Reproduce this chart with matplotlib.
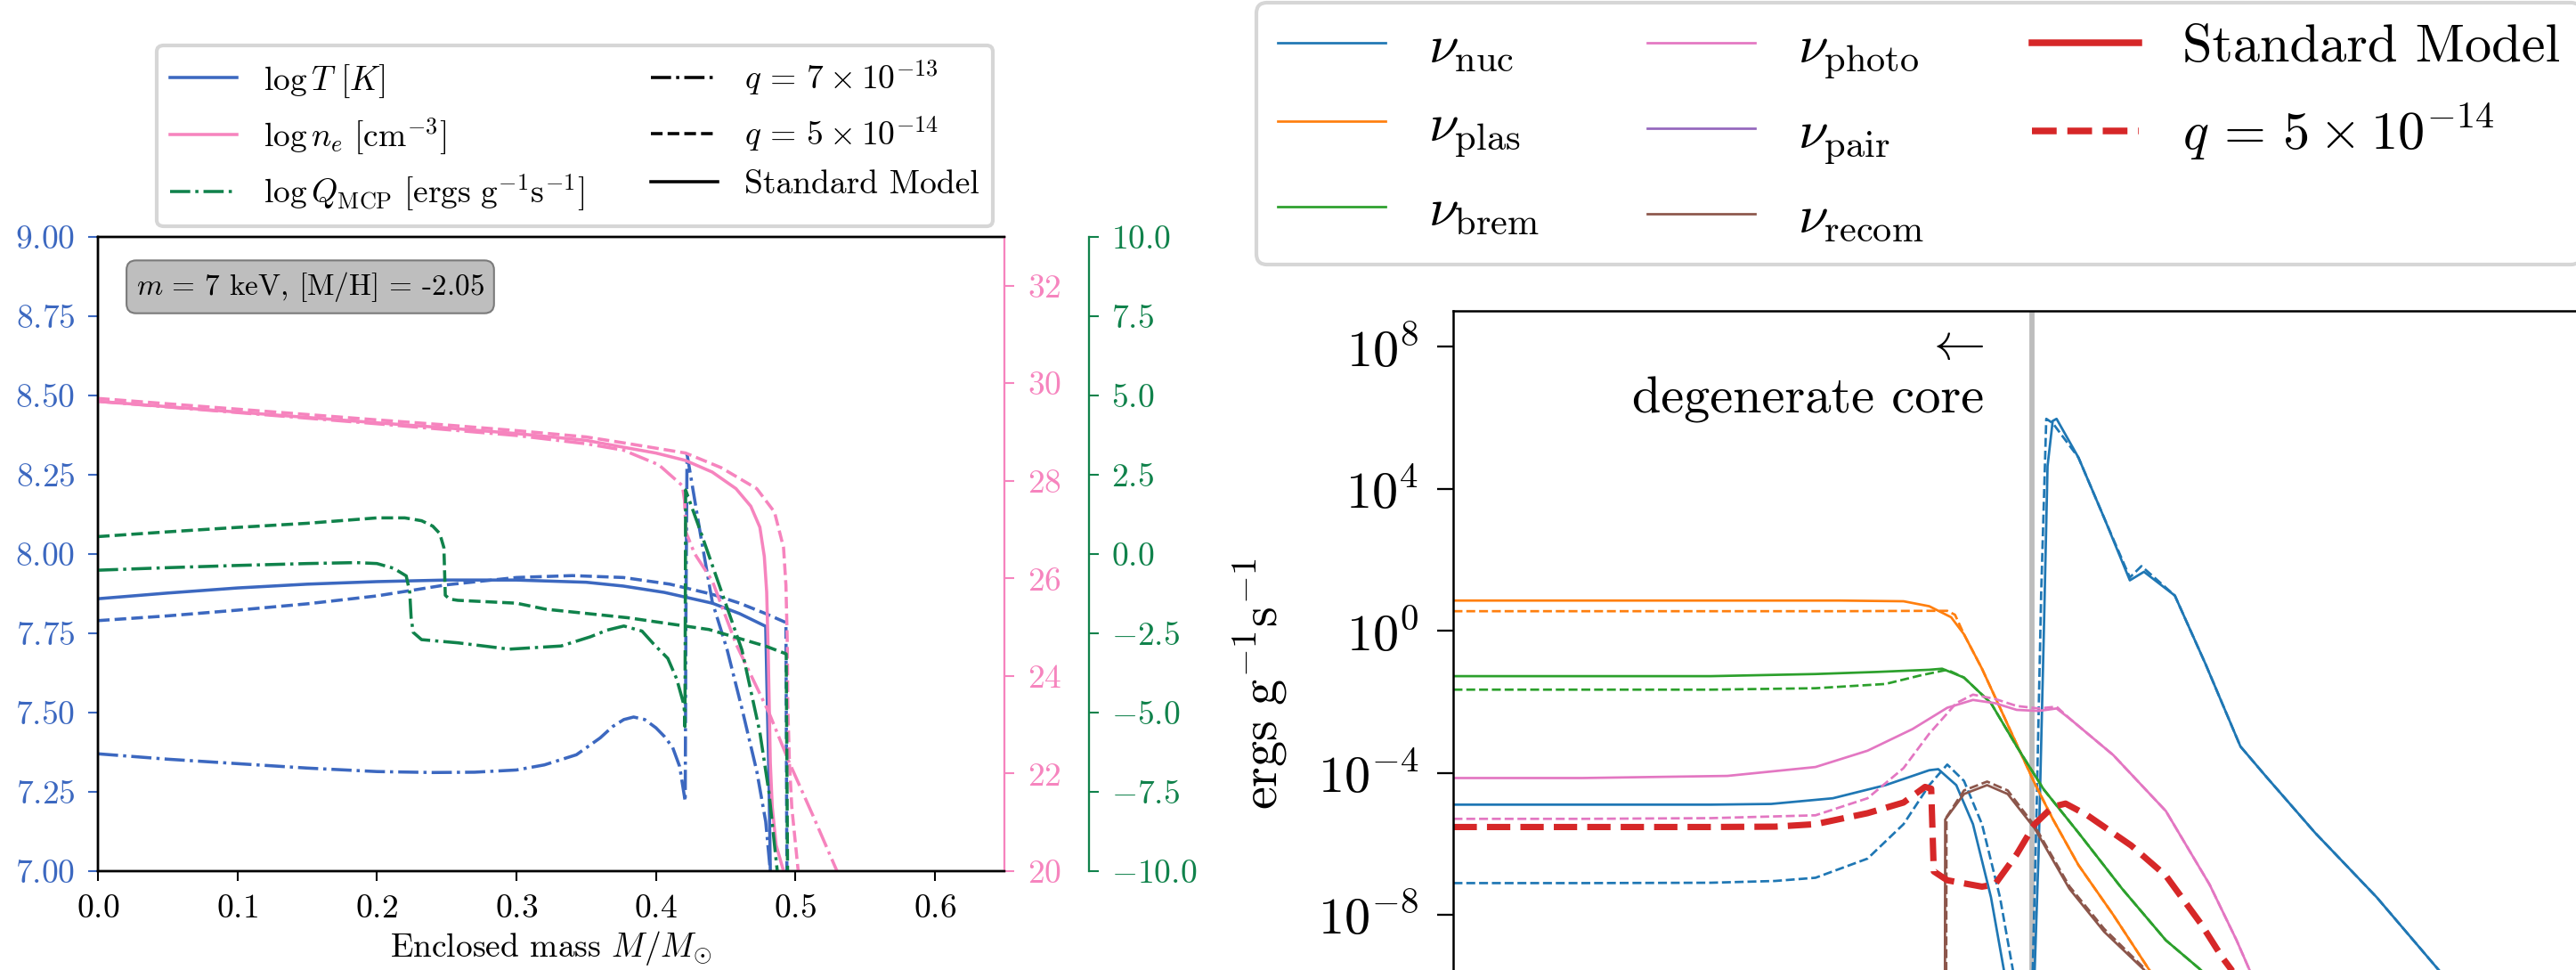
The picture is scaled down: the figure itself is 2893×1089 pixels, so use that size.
import numpy as np
import matplotlib
matplotlib.use('Agg')
from matplotlib import pyplot as plt
from matplotlib.lines import Line2D
from matplotlib.ticker import MultipleLocator, FixedLocator, NullLocator

plt.rcParams['font.family'] = 'serif'
plt.rcParams['font.serif'] = ['cmr10']
plt.rcParams['mathtext.fontset'] = 'cm'
plt.rcParams['axes.formatter.use_mathtext'] = True

BLUE = '#3c68c0'
PINK = '#f684be'
GREEN = '#10824b'

# ---- left panel: profiles vs enclosed mass ----
# temperature, log T [K]
m_T_sm = [0, 0.05, 0.1, 0.15, 0.2, 0.25, 0.3, 0.35, 0.3766, 0.406, 0.4404, 0.46, 0.4787, 0.4795, 0.481, 0.482, 0.4825]
T_sm = [7.859, 7.877, 7.893, 7.905, 7.913, 7.918, 7.918, 7.911, 7.899, 7.879, 7.845, 7.812, 7.772, 7.6, 7.3, 7.0, 6.9]
m_T_q5 = [0, 0.05, 0.1, 0.15, 0.2, 0.25, 0.3, 0.34, 0.3766, 0.41, 0.4404, 0.46, 0.4787, 0.4932, 0.4937, 0.494]
T_q5 = [7.790, 7.805, 7.823, 7.843, 7.868, 7.903, 7.926, 7.932, 7.926, 7.905, 7.873, 7.845, 7.812, 7.784, 7.2, 6.9]
m_T_q7 = [0, 0.05, 0.1, 0.15, 0.2, 0.24, 0.27, 0.3, 0.32, 0.343, 0.36, 0.369, 0.377, 0.384, 0.392, 0.4,
          0.406, 0.412, 0.417, 0.421, 0.4215, 0.4223, 0.432, 0.4404, 0.451, 0.4617, 0.4723, 0.4787, 0.482, 0.485]
T_q7 = [7.370, 7.353, 7.339, 7.325, 7.314, 7.311, 7.312, 7.319, 7.335, 7.367, 7.420, 7.456, 7.478, 7.486, 7.478, 7.452,
        7.425, 7.39, 7.33, 7.22, 7.80, 8.315, 8.06, 7.849, 7.699, 7.512, 7.315, 7.156, 7.0, 6.9]

# electron density, log n_e [cm^-3]
m_n_sm = [0, 0.05, 0.1, 0.15, 0.2, 0.25, 0.3, 0.35, 0.3766, 0.40, 0.421, 0.4404, 0.4574, 0.468, 0.4745, 0.4777,
          0.4794, 0.4804, 0.4812, 0.482, 0.4834, 0.4862, 0.4915, 0.497]
n_sm = [29.63, 29.52, 29.41, 29.30, 29.19, 29.085, 28.97, 28.83, 28.69, 28.57, 28.42, 28.18, 27.84, 27.48, 27.05, 26.45,
        25.72, 24.6, 23.44, 22.22, 21.31, 20.53, 20.0, 19.7]
m_n_q5 = [0, 0.05, 0.1, 0.15, 0.2, 0.25, 0.3, 0.35, 0.3766, 0.4213, 0.4468, 0.4723, 0.485, 0.4915, 0.4932, 0.4942,
          0.4945, 0.4957, 0.4974, 0.502, 0.506]
n_q5 = [29.69, 29.58, 29.47, 29.36, 29.25, 29.145, 29.03, 28.9, 28.78, 28.57, 28.27, 27.84, 27.36, 26.63, 25.86, 24.65,
        23.44, 22.22, 21.31, 20.0, 19.6]
m_n_q7 = [0, 0.1, 0.2, 0.3, 0.35, 0.3766, 0.402, 0.419, 0.4205, 0.4215, 0.4277, 0.4404, 0.4575, 0.481, 0.4957, 0.5127,
          0.5298, 0.535]
n_q7 = [29.63, 29.40, 29.17, 28.93, 28.76, 28.63, 28.33, 27.90, 27.6, 26.95, 26.51, 25.95, 24.65, 23.25, 22.22, 21.13,
        20.0, 19.7]

# MCP emission, log Q_MCP [ergs g^-1 s^-1]
m_Q_q5 = [0, 0.05, 0.1, 0.15, 0.2, 0.22, 0.232, 0.24, 0.245, 0.248, 0.249, 0.252, 0.258, 0.3, 0.321, 0.38, 0.438,
          0.479, 0.4934, 0.4945]
Q_q5 = [0.55, 0.70, 0.84, 0.97, 1.14, 1.14, 1.05, 0.88, 0.65, 0.2, -1.30, -1.42, -1.46, -1.55, -1.74, -2.01, -2.38,
        -2.91, -3.15, -11.0]
m_Q_q7 = [0, 0.05, 0.1, 0.15, 0.185, 0.2, 0.212, 0.221, 0.2235, 0.2245, 0.226, 0.232, 0.258, 0.295, 0.332, 0.353,
          0.365, 0.377, 0.39, 0.398, 0.4085, 0.4149, 0.4202, 0.4208, 0.4213, 0.432, 0.4468, 0.4617, 0.4745, 0.481, 0.487]
Q_q7 = [-0.51, -0.43, -0.36, -0.30, -0.27, -0.30, -0.45, -0.69, -1.2, -2.0, -2.47, -2.70, -2.80, -3.0, -2.9, -2.61,
        -2.40, -2.27, -2.43, -2.82, -3.29, -3.94, -4.78, -5.44, 2.02, 0.71, -1.16, -3.03, -5.62, -7.5, -10.0]

info_text = r'$m\,=\,7$ keV, [M/H] = -2.05'

# ---- right panel: neutrino and MCP losses (log10 of ergs g^-1 s^-1) ----
m_nuc_sm = [0, 0.1, 0.2, 0.247, 0.295, 0.336, 0.37, 0.377, 0.391, 0.404, 0.418, 0.428, 0.436, 0.446, 0.452, 0.455,
            0.459, 0.462, 0.466, 0.469, 0.486, 0.506, 0.526, 0.537, 0.561, 0.585, 0.612, 0.632, 0.670, 0.718, 0.766, 0.80]
nuc_sm = [-4.90, -4.90, -4.90, -4.88, -4.72, -4.35, -3.93, -3.90, -4.35, -5.45, -7.51, -9.55, -13, -13, -9.55, -6.30,
          -0.22, 4.64, 5.91, 5.97, 4.88, 3.18, 1.42, 1.66, 0.99, -0.95, -3.26, -4.11, -5.69, -7.51, -9.55, -11]
m_nuc_q5 = [0, 0.1, 0.2, 0.25, 0.2815, 0.322, 0.35, 0.37, 0.384, 0.397, 0.411, 0.425, 0.435, 0.446, 0.4505, 0.4535,
            0.457, 0.461, 0.466, 0.486, 0.506, 0.526, 0.535, 0.561, 0.585, 0.612, 0.632, 0.670, 0.718, 0.766, 0.80]
nuc_q5 = [-7.11, -7.11, -7.10, -7.05, -6.96, -6.42, -5.45, -4.35, -3.77, -4.23, -5.45, -7.51, -9.55, -13, -9.55, -5.0,
          1.0, 5.97, 5.85, 4.88, 3.18, 1.50, 1.82, 0.99, -0.95, -3.26, -4.11, -5.69, -7.51, -9.55, -11]

m_plas_sm = [0, 0.3, 0.35, 0.37, 0.387, 0.397, 0.411, 0.425, 0.438, 0.452, 0.466, 0.486, 0.513, 0.541, 0.56]
plas_sm = [0.85, 0.85, 0.83, 0.69, 0.38, -0.10, -1.07, -2.17, -3.2, -4.3, -5.3, -6.6, -8.0, -9.55, -10.5]
m_plas_q5 = [0, 0.3, 0.37, 0.384, 0.39, 0.397, 0.411, 0.425, 0.438, 0.452, 0.466, 0.486, 0.513, 0.541, 0.56]
plas_q5 = [0.55, 0.55, 0.56, 0.56, 0.45, -0.10, -1.07, -2.17, -3.2, -4.3, -5.3, -6.6, -8.0, -9.55, -10.5]

m_brem_sm = [0, 0.2, 0.2815, 0.33, 0.37, 0.38, 0.397, 0.418, 0.438, 0.459, 0.486, 0.52, 0.554, 0.581, 0.60]
brem_sm = [-1.28, -1.28, -1.22, -1.16, -1.10, -1.07, -1.32, -2.04, -3.26, -4.47, -5.69, -7.27, -8.72, -9.55, -10.2]
m_brem_q5 = [0, 0.2, 0.2815, 0.336, 0.363, 0.384, 0.397, 0.418, 0.438, 0.459, 0.486, 0.52, 0.554, 0.581, 0.60]
brem_q5 = [-1.66, -1.66, -1.62, -1.50, -1.26, -1.10, -1.32, -2.04, -3.26, -4.47, -5.69, -7.27, -8.72, -9.55, -10.2]

m_photo_sm = [0, 0.1, 0.213, 0.2815, 0.322, 0.357, 0.384, 0.404, 0.421, 0.438, 0.455, 0.469, 0.479, 0.513, 0.554,
              0.588, 0.609, 0.619, 0.64]
photo_sm = [-4.15, -4.15, -4.09, -3.84, -3.38, -2.77, -2.17, -1.95, -2.04, -2.23, -2.26, -2.19, -2.47, -3.50, -5.08,
            -7.15, -8.72, -9.55, -11]
m_photo_q5 = [0, 0.1, 0.2, 0.2815, 0.322, 0.35, 0.370, 0.391, 0.404, 0.421, 0.438, 0.455, 0.469, 0.479, 0.513, 0.554,
              0.588, 0.609, 0.619, 0.64]
photo_q5 = [-5.30, -5.30, -5.28, -5.20, -4.72, -3.87, -2.90, -2.04, -1.80, -1.92, -2.12, -2.19, -2.14, -2.47, -3.50,
            -5.08, -7.15, -8.72, -9.55, -11]

m_recom_sm = [0.382, 0.3822, 0.3824, 0.397, 0.415, 0.431, 0.452, 0.479, 0.506, 0.537, 0.56]
recom_sm = [-13, -9.55, -5.32, -4.6, -4.35, -4.6, -5.57, -7.27, -8.48, -9.55, -11]
m_recom_q5 = [0.383, 0.3832, 0.3834, 0.397, 0.415, 0.431, 0.452, 0.479, 0.506, 0.537, 0.56]
recom_q5 = [-13, -9.55, -5.25, -4.5, -4.25, -4.5, -5.5, -7.2, -8.4, -9.5, -11]

m_mcp_q5 = [0, 0.2, 0.25, 0.2815, 0.322, 0.35, 0.3667, 0.3715, 0.3735, 0.384, 0.411, 0.421, 0.438, 0.452, 0.466,
            0.476, 0.493, 0.527, 0.554, 0.581, 0.598, 0.605, 0.62]
mcp_q5 = [-5.53, -5.53, -5.52, -5.45, -5.14, -4.84, -4.40, -4.45, -6.78, -7.03, -7.21, -7.15, -6.30, -5.45, -4.96,
          -4.87, -5.20, -6.05, -6.90, -8.24, -9.21, -9.55, -10.5]

core_edge = 0.45

W, H = 2893, 1089
fig = plt.figure(figsize=(W / 300, H / 300), dpi=300)

# host axis (temperature) plus two twins for n_e and Q_MCP
ax = fig.add_axes([110 / W, 1 - 978 / H, 1018.3 / W, 712 / H])
par1 = ax.twinx()
par2 = ax.twinx()
par2.spines['right'].set_position(('axes', 1.0927))

lw = 0.85
ax.plot(m_T_sm, T_sm, color=BLUE, lw=lw, ls='-')
ax.plot(m_T_q5, T_q5, color=BLUE, lw=lw, ls='--')
ax.plot(m_T_q7, T_q7, color=BLUE, lw=lw, ls='-.')
par1.plot(m_n_sm, n_sm, color=PINK, lw=lw, ls='-')
par1.plot(m_n_q5, n_q5, color=PINK, lw=lw, ls='--')
par1.plot(m_n_q7, n_q7, color=PINK, lw=lw, ls='-.')
par2.plot(m_Q_q5, Q_q5, color=GREEN, lw=lw, ls='--')
par2.plot(m_Q_q7, Q_q7, color=GREEN, lw=lw, ls='-.')

ax.set_xlim(0, 0.65)
ax.set_ylim(7, 9)
par1.set_ylim(20, 33)
par2.set_ylim(-10, 10)
ax.xaxis.set_major_locator(MultipleLocator(0.1))
ax.yaxis.set_major_locator(MultipleLocator(0.25))
par1.yaxis.set_major_locator(MultipleLocator(2))
par2.yaxis.set_major_locator(MultipleLocator(2.5))

for a in (ax, par1, par2):
    for s in a.spines.values():
        s.set_linewidth(0.55)
    a.tick_params(length=2.6, width=0.5, labelsize=9, pad=3.5)
ax.spines['right'].set_visible(False)
par1.spines['right'].set_color(PINK)
par2.spines['right'].set_color(GREEN)
ax.tick_params(axis='y', colors=BLUE)
par1.tick_params(axis='y', colors=PINK)
par2.tick_params(axis='y', colors=GREEN)
ax.set_xlabel(r'Enclosed mass $M/M_{\odot}$', fontsize=9, labelpad=1.5)

ax.text(0.042, 0.948, info_text, transform=ax.transAxes, fontsize=8, va='top', ha='left',
        bbox=dict(boxstyle='round,pad=0.32', fc='#bebebe', ec='#7a7a7a', lw=0.5))

left_handles = [
    Line2D([], [], color=BLUE, lw=lw, ls='-'),
    Line2D([], [], color=PINK, lw=lw, ls='-'),
    Line2D([], [], color=GREEN, lw=lw, ls='-.'),
    Line2D([], [], color='k', lw=lw, ls='-.'),
    Line2D([], [], color='k', lw=lw, ls='--'),
    Line2D([], [], color='k', lw=lw, ls='-'),
]
left_labels = [r'$\log T\ [K]$', r'$\log n_e\ [\mathrm{cm}^{-3}]$',
               r'$\log Q_{\rm MCP}\ [\mathrm{ergs\ g^{-1}s^{-1}}]$',
               r'$q\,=\,7\times10^{-13}$', r'$q\,=\,5\times10^{-14}$', 'Standard Model']
fig.legend(left_handles, left_labels, ncol=2, fontsize=9, loc='lower left',
           bbox_to_anchor=(176 / W, 1 - 254 / H), bbox_transform=fig.transFigure, borderaxespad=0)

# ---- right panel ----
ax2 = fig.add_axes([1632.4 / W, 1 - 1186.3 / H, 0.9 * 1444 / W, (1186.3 - 349.45) / H])
thin = 0.65
curves = [
    (m_nuc_sm, nuc_sm, 'tab:blue', '-'), (m_nuc_q5, nuc_q5, 'tab:blue', '--'),
    (m_plas_sm, plas_sm, 'tab:orange', '-'), (m_plas_q5, plas_q5, 'tab:orange', '--'),
    (m_brem_sm, brem_sm, 'tab:green', '-'), (m_brem_q5, brem_q5, 'tab:green', '--'),
    (m_photo_sm, photo_sm, 'tab:pink', '-'), (m_photo_q5, photo_q5, 'tab:pink', '--'),
    (m_recom_sm, recom_sm, 'tab:brown', '-'), (m_recom_q5, recom_q5, 'tab:brown', '--'),
]
for mm, lg, c, ls in curves:
    ax2.plot(mm, 10 ** np.array(lg), color=c, lw=thin, ls=ls)
ax2.plot(m_mcp_q5, 10 ** np.array(mcp_q5), color='tab:red', lw=1.7, ls='--')
ax2.axvline(core_edge, color='#bdbdbd', lw=1.4, zorder=0)

ax2.set_yscale('log')
ax2.set_xlim(0, 0.9)
ax2.set_ylim(1e-12, 1e9)
ax2.yaxis.set_major_locator(FixedLocator([1e-8, 1e-4, 1e0, 1e4, 1e8]))
ax2.yaxis.set_minor_locator(NullLocator())
ax2.set_xticks([])
for s in ax2.spines.values():
    s.set_linewidth(0.6)
ax2.tick_params(length=4.3, width=0.55, labelsize=14, pad=5)
ax2.set_ylabel(r'$\mathrm{ergs\ g^{-1}s^{-1}}$', fontsize=14)
ax2.yaxis.set_label_coords(-0.142, 0.5)
ax2.text(0.4127, 7e5, r'$\leftarrow$' + '\n' + 'degenerate core', fontsize=14, ha='right', va='bottom',
         multialignment='right')

right_handles = [
    Line2D([], [], color='tab:blue', lw=thin), Line2D([], [], color='tab:orange', lw=thin),
    Line2D([], [], color='tab:green', lw=thin), Line2D([], [], color='tab:pink', lw=thin),
    Line2D([], [], color='tab:purple', lw=thin), Line2D([], [], color='tab:brown', lw=thin),
    Line2D([], [], color='tab:red', lw=1.8, ls='-'), Line2D([], [], color='tab:red', lw=1.8, ls='--'),
]
right_labels = [r'$\nu_{\rm nuc}$', r'$\nu_{\rm plas}$', r'$\nu_{\rm brem}$', r'$\nu_{\rm photo}$',
                r'$\nu_{\rm pair}$', r'$\nu_{\rm recom}$', 'Standard Model', r'$q\,=\,5\times10^{-14}$']
fig.legend(right_handles, right_labels, ncol=3, fontsize=14.5, loc='upper left', labelspacing=0.55,
           bbox_to_anchor=(1411 / W, 1 - 3 / H), bbox_transform=fig.transFigure, borderaxespad=0)

fig.savefig('out.png', dpi=300)
